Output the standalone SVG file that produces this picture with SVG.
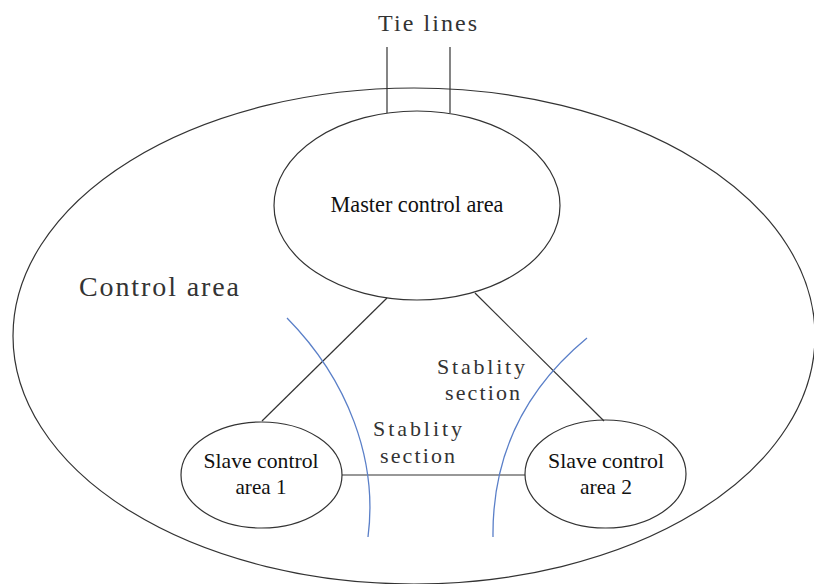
<svg xmlns="http://www.w3.org/2000/svg" width="814" height="584" viewBox="0 0 814 584">
<style>
.shape{fill:none;stroke:#333;stroke-width:1.2}
.conn{fill:none;stroke:#333;stroke-width:1.2}
.blue{fill:none;stroke:#5a7fc8;stroke-width:1.3}
.serif{font-family:"Liberation Serif","Times New Roman",serif;fill:#111}
.mono{font-family:"Liberation Serif","Times New Roman",serif;fill:#333}
</style>
<rect width="814" height="584" fill="#fff"/>
<g id="control-area">
<ellipse class="shape" cx="414" cy="336" rx="401" ry="248"/>
<text class="mono" x="79" y="296" font-size="28" textLength="160" lengthAdjust="spacing">Control area</text>
</g>
<g id="tie-lines">
<text class="mono" x="378" y="31" font-size="24" textLength="99" lengthAdjust="spacing">Tie lines</text>
</g>
<g id="connectors">
<line class="conn" x1="387" y1="47" x2="387" y2="113"/>
<line class="conn" x1="450" y1="47" x2="450" y2="113"/>
<line class="conn" x1="387" y1="298" x2="262" y2="421"/>
<line class="conn" x1="475" y1="293" x2="604" y2="421"/>
<line class="conn" x1="342" y1="475" x2="525" y2="475"/>
</g>
<g id="master">
<ellipse class="shape" cx="417" cy="205.5" rx="143" ry="94.5" fill="#fff"/>
<text class="serif" x="417" y="212" font-size="24" text-anchor="middle" textLength="173" lengthAdjust="spacingAndGlyphs">Master control area</text>
</g>
<g id="slave1">
<ellipse class="shape" cx="261.5" cy="475" rx="80.5" ry="53"/>
<text class="serif" x="261" y="468" font-size="22" text-anchor="middle" textLength="115" lengthAdjust="spacingAndGlyphs">Slave control</text>
<text class="serif" x="261" y="494" font-size="22" text-anchor="middle" textLength="51" lengthAdjust="spacingAndGlyphs">area 1</text>
</g>
<g id="slave2">
<ellipse class="shape" cx="605.5" cy="474" rx="80.5" ry="54"/>
<text class="serif" x="606" y="468" font-size="22" text-anchor="middle" textLength="116" lengthAdjust="spacingAndGlyphs">Slave control</text>
<text class="serif" x="606" y="494" font-size="22" text-anchor="middle" textLength="52" lengthAdjust="spacingAndGlyphs">area 2</text>
</g>
<g id="stability-sections">
<path class="blue" d="M287,318 C348,380 378,460 368,537"/>
<path class="blue" d="M587,338 C530,385 492,450 493,537"/>
<text class="mono" x="437" y="374" font-size="22" textLength="88" lengthAdjust="spacing">Stablity</text>
<text class="mono" x="445" y="400" font-size="22" textLength="75" lengthAdjust="spacing">section</text>
<text class="mono" x="373" y="436" font-size="22" textLength="89" lengthAdjust="spacing">Stablity</text>
<text class="mono" x="380" y="463" font-size="22" textLength="75" lengthAdjust="spacing">section</text>
</g>
</svg>
